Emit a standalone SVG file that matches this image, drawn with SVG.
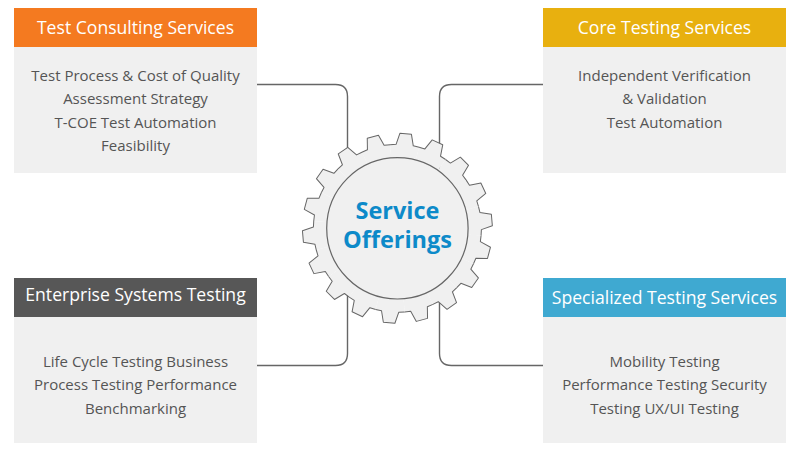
<svg xmlns="http://www.w3.org/2000/svg" xmlns:xlink="http://www.w3.org/1999/xlink" width="800" height="452" viewBox="0 0 800 452">
<style>
text{font-family:"Open Sans","Noto Sans","DejaVu Sans",sans-serif;text-anchor:middle}
.h{font-size:17.6px;fill:#fff;font-weight:500}
.b{font-size:15px;fill:#555}
.c{font-size:23.5px;fill:#0d8ac9;font-weight:700}
.body{fill:#f0f0f0}
.link{fill:none;stroke:#666;stroke-width:1.4}
.wedge{fill:#f0f0f0;stroke:none}
.edge{fill:none;stroke:#666;stroke-width:1;stroke-linejoin:round}
</style>
<defs>
<g id="tooth">
<path class="wedge" d="M0 0L-14.6-82.7L-8.63-83.56L-5.8-94.82L5.8-94.82L8.63-83.56L14.6-82.7Z"/>
<path class="edge" d="M-14.6-82.7L-8.63-83.56L-5.8-94.82L5.8-94.82L8.63-83.56L14.6-82.7"/>
</g>
</defs>
<rect width="800" height="452" fill="#fff"/>
<g id="connectors">
<path class="link" d="M257 84.5H335.5Q347.5 84.5 347.5 96.5V170"/>
<path class="link" d="M543 84.5H451.5Q439.5 84.5 439.5 96.5V170"/>
<path class="link" d="M257 365.5H335.5Q347.5 365.5 347.5 353.5V290"/>
<path class="link" d="M543 365.5H451.5Q439.5 365.5 439.5 353.5V290"/>
</g>
<g id="test-consulting">
<rect class="body" x="14" y="47" width="243" height="126"/>
<rect x="14" y="8" width="243" height="39" fill="#f47a20"/>
<text class="h" x="135.5" y="33.5">Test Consulting Services</text>
<text class="b" x="135.5" y="80.5">Test Process &amp; Cost of Quality</text>
<text class="b" x="135.5" y="104">Assessment Strategy</text>
<text class="b" x="135.5" y="127.5">T-COE Test Automation</text>
<text class="b" x="135.5" y="151">Feasibility</text>
</g>
<g id="core-testing">
<rect class="body" x="543" y="47" width="243" height="126"/>
<rect x="543" y="8" width="243" height="39" fill="#e8b00f"/>
<text class="h" x="664.5" y="33.5">Core Testing Services</text>
<text class="b" x="664.5" y="80.5">Independent Verification</text>
<text class="b" x="664.5" y="104">&amp; Validation</text>
<text class="b" x="664.5" y="127.5">Test Automation</text>
</g>
<g id="enterprise-systems">
<rect class="body" x="14" y="317" width="243" height="126"/>
<rect x="14" y="278" width="243" height="39" fill="#575757"/>
<text class="h" x="135.5" y="301">Enterprise Systems Testing</text>
<text class="b" x="135.5" y="366.5">Life Cycle Testing Business</text>
<text class="b" x="135.5" y="390">Process Testing Performance</text>
<text class="b" x="135.5" y="413.5">Benchmarking</text>
</g>
<g id="specialized-testing">
<rect class="body" x="543" y="317" width="243" height="126"/>
<rect x="543" y="278" width="243" height="39" fill="#3fa9d1"/>
<text class="h" x="664.5" y="303.5">Specialized Testing Services</text>
<text class="b" x="664.5" y="366.5">Mobility Testing</text>
<text class="b" x="664.5" y="390">Performance Testing Security</text>
<text class="b" x="664.5" y="413.5">Testing UX/UI Testing</text>
</g>
<g id="service-offerings">
<g transform="translate(397.4 228.3)">
<use xlink:href="#tooth" transform="rotate(5)"/>
<use xlink:href="#tooth" transform="rotate(25)"/>
<use xlink:href="#tooth" transform="rotate(45)"/>
<use xlink:href="#tooth" transform="rotate(65)"/>
<use xlink:href="#tooth" transform="rotate(85)"/>
<use xlink:href="#tooth" transform="rotate(105)"/>
<use xlink:href="#tooth" transform="rotate(125)"/>
<use xlink:href="#tooth" transform="rotate(145)"/>
<use xlink:href="#tooth" transform="rotate(165)"/>
<use xlink:href="#tooth" transform="rotate(185)"/>
<use xlink:href="#tooth" transform="rotate(205)"/>
<use xlink:href="#tooth" transform="rotate(225)"/>
<use xlink:href="#tooth" transform="rotate(245)"/>
<use xlink:href="#tooth" transform="rotate(265)"/>
<use xlink:href="#tooth" transform="rotate(285)"/>
<use xlink:href="#tooth" transform="rotate(305)"/>
<use xlink:href="#tooth" transform="rotate(325)"/>
<use xlink:href="#tooth" transform="rotate(345)"/>
<circle r="70.7" fill="#f0f0f0" stroke="#666" stroke-width="1.2"/>
</g>
<text class="c" x="397.5" y="218.5">Service</text>
<text class="c" x="397.5" y="247.5">Offerings</text>
</g>
</svg>
